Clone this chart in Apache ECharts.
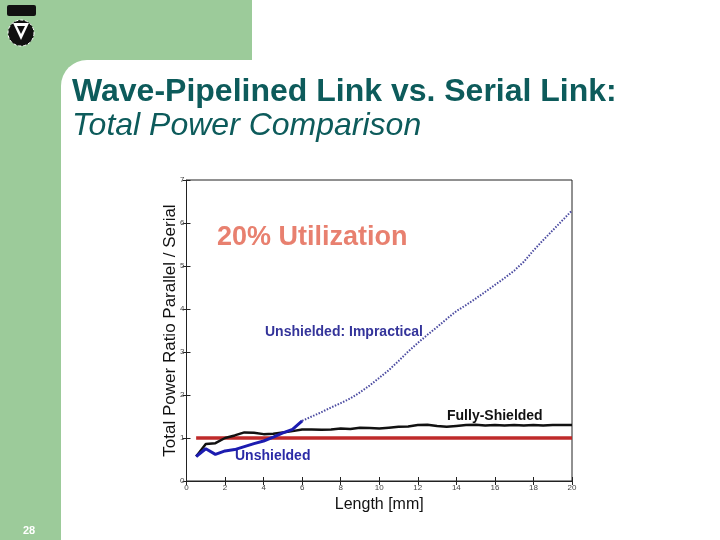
<!DOCTYPE html>
<html><head><meta charset="utf-8">
<script src="https://cdn.jsdelivr.net/npm/echarts@6/dist/echarts.min.js"></script>
<style>html,body{margin:0;padding:0;background:#fff}#c{width:720px;height:540px}</style>
</head><body><div id="c"></div>
<script>
// Data
const xTicks = [0, 2, 4, 6, 8, 10, 12, 14, 16, 18, 20];
const unshieldedLen = [0.5, 1, 1.5, 2, 2.5, 3, 3.5, 4, 4.5, 5, 5.5, 6];
const unshieldedVal = [0.57, 0.75, 0.62, 0.70, 0.73, 0.80, 0.87, 0.93, 1.02, 1.12, 1.20, 1.40];
const impracticalLen = [6, 6.5, 7, 7.5, 8, 8.5, 9, 9.5, 10, 10.5, 11, 11.5, 12, 12.5, 13, 13.5, 14, 14.5, 15, 15.5, 16, 16.5, 17, 17.5, 18, 18.5, 19, 19.5, 20];
const impracticalVal = [1.40, 1.50, 1.60, 1.71, 1.81, 1.92, 2.06, 2.22, 2.40, 2.58, 2.79, 3.01, 3.21, 3.40, 3.58, 3.77, 3.95, 4.09, 4.24, 4.40, 4.56, 4.72, 4.89, 5.10, 5.36, 5.60, 5.83, 6.06, 6.29];
const shieldedLen = [0.5, 1, 1.5, 2, 2.5, 3, 3.5, 4, 4.5, 5, 5.5, 6, 6.5, 7, 7.5, 8, 8.5, 9, 9.5, 10, 10.5, 11, 11.5, 12, 12.5, 13, 13.5, 14, 14.5, 15, 15.5, 16, 16.5, 17, 17.5, 18, 18.5, 19, 19.5, 20];
const shieldedVal = [0.57, 0.86, 0.88, 1.00, 1.06, 1.13, 1.12, 1.09, 1.10, 1.13, 1.16, 1.20, 1.20, 1.19, 1.20, 1.22, 1.21, 1.24, 1.23, 1.22, 1.24, 1.26, 1.27, 1.30, 1.31, 1.28, 1.26, 1.28, 1.30, 1.31, 1.29, 1.30, 1.29, 1.30, 1.29, 1.30, 1.29, 1.30, 1.30, 1.30];
const serialLen = [0.5, 20];
const serialVal = [1, 1];

const pairs = (xs, ys) => xs.map((x, i) => [x, ys[i]]);
const chart = echarts.init(document.getElementById('c'));
const green = '#9ccb9a';
const teal = '#0d5b5b';
const tickLbl = {fontSize: 8, color: '#444', fontFamily: 'Liberation Sans'};
chart.setOption({
  animation: false,
  backgroundColor: '#fff',
  textStyle: {fontFamily: 'Liberation Sans'},
  grid: {left: 186.5, right: 148, top: 180, bottom: 59, show: true, borderColor: '#222', borderWidth: 1, containLabel: false},
  xAxis: [{
    type: 'value', min: 0, max: 20, interval: 2, position: 'bottom',
    axisLine: {lineStyle: {color: '#222'}}, axisTick: {inside: true, length: 4, lineStyle: {color: '#222'}},
    splitLine: {show: false}, axisLabel: Object.assign({margin: 3}, tickLbl),
    name: 'Length [mm]', nameLocation: 'middle', nameGap: 16,
    nameTextStyle: {fontSize: 16, color: '#111', fontFamily: 'Liberation Sans'}
  }, {
    type: 'value', min: 0, max: 20, interval: 2, position: 'top',
    axisLine: {show: false}, axisTick: {inside: true, length: 4, lineStyle: {color: '#222'}},
    axisLabel: {show: false}, splitLine: {show: false}
  }],
  yAxis: [{
    type: 'value', min: 0, max: 7, interval: 1,
    axisLine: {show: true, lineStyle: {color: '#222'}}, axisTick: {show: true, inside: true, length: 4, lineStyle: {color: '#222'}},
    splitLine: {show: false}, axisLabel: Object.assign({margin: 2}, tickLbl),
    name: 'Total Power Ratio Parallel / Serial', nameLocation: 'middle', nameGap: 8, nameMoveOverlap: false,
    nameTextStyle: {fontSize: 17, color: '#111', fontFamily: 'Liberation Sans'}
  }, {
    type: 'value', min: 0, max: 7, interval: 1, position: 'right',
    axisLine: {show: false}, axisTick: {show: true, inside: true, length: 4, lineStyle: {color: '#222'}},
    axisLabel: {show: false}, splitLine: {show: false}
  }],
  series: [
    {name: 'Serial', type: 'line', data: pairs(serialLen, serialVal), showSymbol: false,
     lineStyle: {color: '#bf2a2a', width: 3.5}, z: 2},
    {name: 'Fully-Shielded', type: 'line', data: pairs(shieldedLen, shieldedVal), showSymbol: false,
     lineStyle: {color: '#111', width: 2.5}, z: 3},
    {name: 'Unshielded: Impractical', type: 'line', data: pairs(impracticalLen, impracticalVal), showSymbol: false,
     lineStyle: {color: '#4a4aa0', width: 2, type: [1.5, 1.5]}, z: 3},
    {name: 'Unshielded', type: 'line', data: pairs(unshieldedLen, unshieldedVal), showSymbol: false,
     lineStyle: {color: '#1c1cb0', width: 3}, z: 4}
  ],
  graphic: [
    {type: 'rect', z: -10, shape: {x: 0, y: 0, width: 61, height: 540}, style: {fill: green}, silent: true},
    {type: 'rect', z: -10, shape: {x: 0, y: 0, width: 252, height: 90}, style: {fill: green}, silent: true},
    {type: 'rect', z: -9, shape: {x: 61, y: 60, width: 659, height: 480, r: [26, 0, 0, 0]}, style: {fill: '#fff'}, silent: true},
    // logo approximation
    {type: 'rect', z: -8, shape: {x: 7, y: 5, width: 29, height: 11, r: 2}, style: {fill: '#111'}},
    {type: 'circle', z: -8, shape: {cx: 21, cy: 33, r: 13}, style: {fill: '#111', stroke: '#fff', lineWidth: 1, lineDash: [3, 2]}},
    {type: 'polygon', z: -7, shape: {points: [[13, 23], [29, 23], [21, 40]]}, style: {fill: '#fff'}},
    {type: 'polygon', z: -6, shape: {points: [[17, 26], [25, 26], [21, 34]]}, style: {fill: '#111'}},
    {type: 'text', left: 72, top: 76, style: {text: 'Wave-Pipelined Link vs. Serial Link:', font: 'bold 32px "Liberation Sans"', fill: teal}},
    {type: 'text', left: 72, top: 110, style: {text: 'Total Power Comparison', font: 'italic 32px "Liberation Sans"', fill: teal}},
    {type: 'text', left: 217, top: 224, style: {text: '20% Utilization', font: 'bold 27px "Liberation Sans"', fill: '#e8806f'}},
    {type: 'text', left: 265, top: 325, style: {text: 'Unshielded: Impractical', font: 'bold 14px "Liberation Sans"', fill: '#34349a'}},
    {type: 'text', left: 447, top: 409, style: {text: 'Fully-Shielded', font: 'bold 14px "Liberation Sans"', fill: '#111'}},
    {type: 'text', left: 235, top: 449, style: {text: 'Unshielded', font: 'bold 14px "Liberation Sans"', fill: '#2a2aa6'}},
    {type: 'text', left: 23, top: 525, style: {text: '28', font: 'bold 11px "Liberation Sans"', fill: '#fff'}}
  ]
});
</script></body></html>
